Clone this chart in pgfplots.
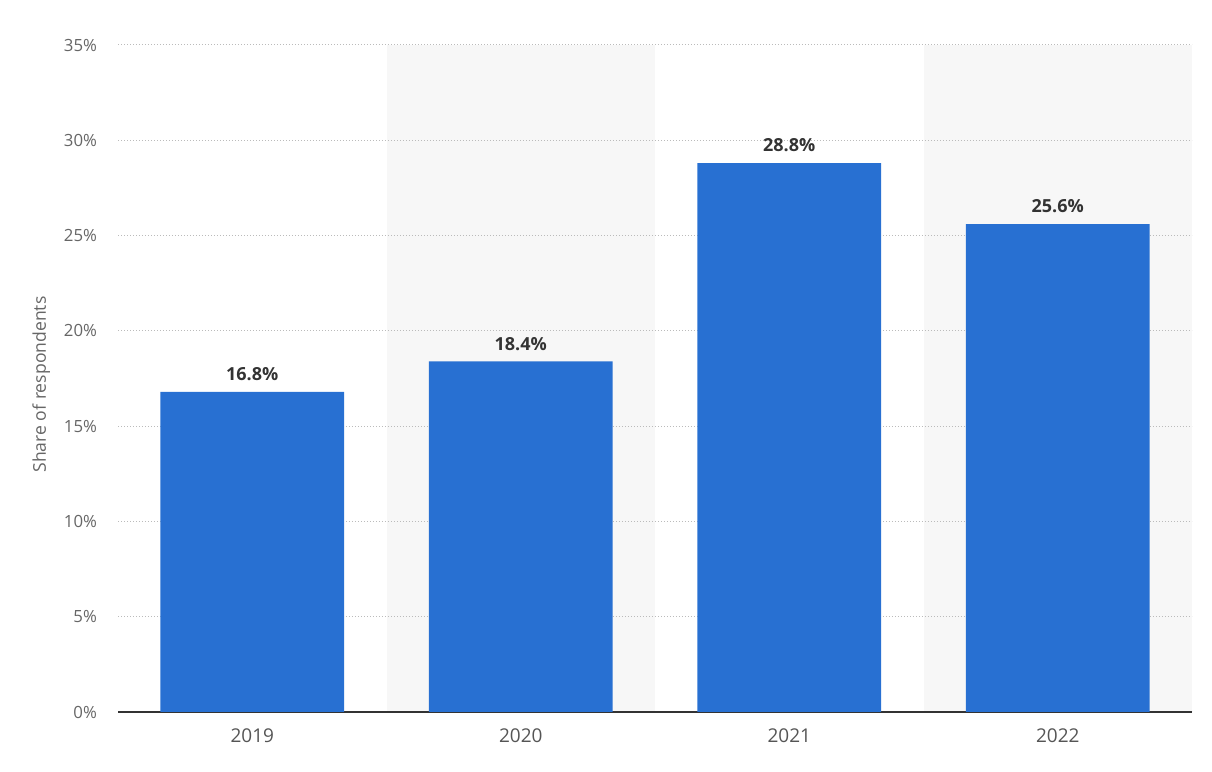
\documentclass[border=0pt]{standalone}
\usepackage{pgfplots}
\pgfplotsset{compat=1.18}
\usepackage{fontspec}
\setmainfont{Open Sans}
\definecolor{barblue}{HTML}{2870D2}
\definecolor{band}{HTML}{F7F7F7}
\definecolor{gridc}{HTML}{BBBBBB}
\definecolor{ticktxt}{HTML}{666666}
\definecolor{xtxt}{HTML}{555555}
\definecolor{lbltxt}{HTML}{333333}
\begin{document}
\begin{tikzpicture}
\begin{axis}[
  set layers,
  scale only axis,
  width=537pt, height=333.5pt,
  xmin=-0.5, xmax=3.5,
  ymin=0, ymax=35,
  xtick=data,
  xticklabels={2019,2020,2021,2022},
  ytick={0,5,...,35},
  yticklabel={\pgfmathprintnumber{\tick}\%},
  /pgf/number format/assume math mode=true,
  axis x line*=bottom,
  axis y line*=left,
  x axis line style={draw=lbltxt, line width=1pt, -},
  y axis line style={draw=none},
  major tick length=0pt,
  ymajorgrids,
  grid style={draw=gridc, dash pattern=on 0.6pt off 0.9pt, line width=0.5pt},
  yticklabel style={font=\fontsize{8.4}{9}\selectfont, text=ticktxt, xshift=-7pt},
  xticklabel style={font=\fontsize{9.5}{11}\selectfont, text=xtxt, yshift=-5pt},
  ylabel={Share of respondents},
  every axis y label/.style={at={(ticklabel cs:0.5)}, rotate=90, anchor=near ticklabel, xshift=-3pt,
    font=\fontsize{8.8}{10}\selectfont, text=ticktxt},
  tick style={draw=none},
  clip=false,
]
\begin{pgfonlayer}{axis background}
\fill[band] (axis cs:0.5,0) rectangle (axis cs:1.5,35);
\fill[band] (axis cs:2.5,0) rectangle (axis cs:3.5,35);
\end{pgfonlayer}
\addplot[ybar, bar width=0.685, fill=barblue, draw=none,
  nodes near coords={\pgfmathprintnumber[fixed,fixed zerofill,precision=1]{\pgfplotspointmeta}\%},
  nodes near coords style={font=\fontsize{9}{10}\selectfont\bfseries, text=lbltxt, anchor=south, yshift=2pt}]
  coordinates {(0,16.8) (1,18.4) (2,28.8) (3,25.6)};
\end{axis}
\path ([shift={(-59pt,-30pt)}]current axis.south west) rectangle ([shift={(10pt,22.5pt)}]current axis.north east);
\end{tikzpicture}
\end{document}
